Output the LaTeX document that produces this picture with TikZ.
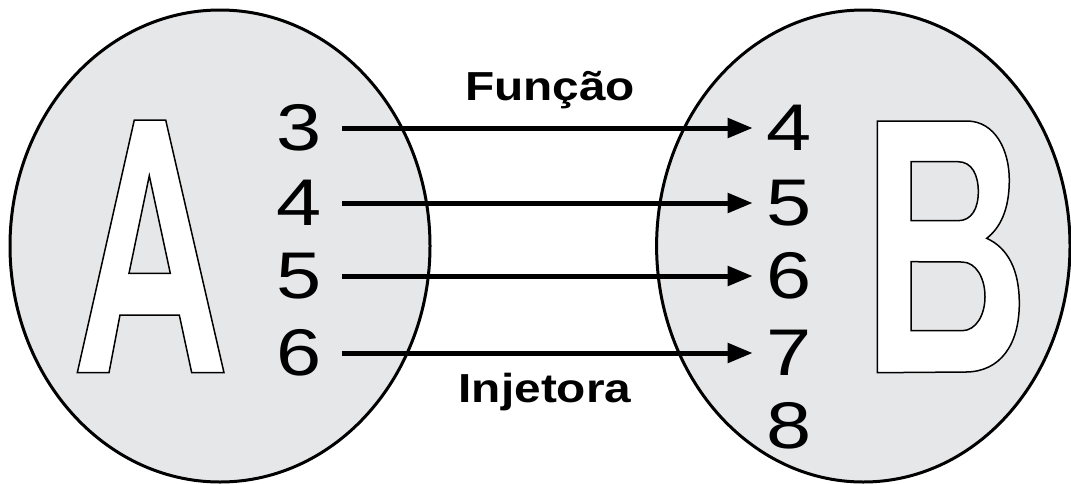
\documentclass[tikz,border=0pt]{standalone}
\usepackage{fontspec}
\usepackage{graphicx}
\setmainfont{Liberation Sans}
\usetikzlibrary{arrows.meta}
\definecolor{setgrey}{HTML}{E6E7E8}
\begin{document}
\begin{tikzpicture}[x=1pt,y=-1pt,
  setshape/.style={draw=black, line width=3pt, fill=setgrey},
  letter/.style={draw=black, line width=1.5pt, fill=white, even odd rule},
  num/.style={inner sep=0pt, font=\fontsize{66}{66}\selectfont},
  lab/.style={inner sep=0pt, anchor=base, font=\fontsize{40.5}{40.5}\selectfont\bfseries},
  arr/.style={line width=5pt, -{Triangle[length=25pt,width=19pt]}, shorten <=20pt, shorten >=14pt}]
\useasboundingbox (0,0) rectangle (1071,483);
\fill[white] (0,0) rectangle (1071,483);
% sets
\draw[setshape] (220,246) ellipse [x radius=210, y radius=236];
\draw[setshape] (863.3,246) ellipse [x radius=206.7, y radius=236];
% letter A
\draw[letter] (77.3,372.7) -- (134.3,120) -- (165.7,120) -- (224,372.7) -- (191.7,372.7)
  -- (179.3,315) -- (120,315) -- (109,372.7) -- cycle
  (149.3,175.7) -- (170.3,273.3) -- (129,273.3) -- cycle;
% letter B
\draw[letter] (877.3,121) -- (966.7,121)
  .. controls (995,121) and (1009.3,150) .. (1009.3,180)
  .. controls (1009.3,210) and (1000,228) .. (986.7,238.3)
  .. controls (1008,248) and (1019.3,270) .. (1019.3,303.3)
  .. controls (1019.3,345) and (1000,371.7) .. (966,372)
  -- (877.3,372.7) -- cycle
  (911,161.7) -- (958,161.7)
  .. controls (972,161.7) and (978.3,175) .. (978.3,191.7)
  .. controls (978.3,208) and (972,220.7) .. (958,220.7)
  -- (911,220.7) -- cycle
  (911,261.7) -- (962,262)
  .. controls (976,262) and (985,278) .. (985,296.7)
  .. controls (985,315) and (976,330.7) .. (962,330.7)
  -- (911,330.7) -- cycle;
% elements of A
\node[num] (a3) at (299.5,128) {\scalebox{1.23}[1]{3}};
\node[num] (a4) at (299.5,203) {\scalebox{1.23}[1]{4}};
\node[num] (a5) at (299.5,276) {\scalebox{1.23}[1]{5}};
\node[num] (a6) at (299.5,353) {\scalebox{1.23}[1]{6}};
% elements of B
\node[num] (b4) at (789.5,128) {\scalebox{1.23}[1]{4}};
\node[num] (b5) at (789.5,203) {\scalebox{1.23}[1]{5}};
\node[num] (b6) at (789.5,276) {\scalebox{1.23}[1]{6}};
\node[num] (b7) at (789.5,353) {\scalebox{1.23}[1]{7}};
\node[num] (b8) at (789.5,426) {\scalebox{1.23}[1]{8}};
% arrows
\draw[arr] (a3) -- (b4);
\draw[arr] (a4) -- (b5);
\draw[arr] (a5) -- (b6);
\draw[arr] (a6) -- (b7);
% labels
\node[lab] (fn) at (550,100.5) {\scalebox{1.18}[1]{Função}};
\node[lab] (inj) at (545,402) {\scalebox{1.18}[1]{Injetora}};
\end{tikzpicture}
\end{document}
